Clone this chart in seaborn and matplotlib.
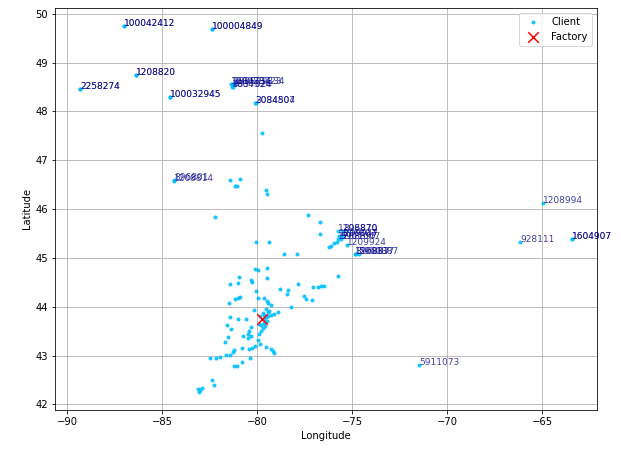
import matplotlib
matplotlib.use("Agg")
import matplotlib.pyplot as plt
import pandas as pd
import seaborn as sns

# Clients near the factory (no label)
near_lon = [
    -81.42, -80.98, -80.28, -80.05, -79.93, -79.65, -79.47, -79.40, -79.26, -78.79,
    -78.35, -78.42, -77.83, -77.51, -77.42, -78.21, -81.16, -80.98, -80.88, -81.49,
    -78.91, -79.09, -79.26, -79.44, -80.14, -79.61, -79.53, -79.61, -79.70, -79.79,
    -79.88, -81.42, -81.02, -80.58, -81.60, -81.37, -80.32, -80.40, -80.49, -80.76,
    -80.32, -80.49, -81.54, -81.68, -79.97, -79.83, -80.11, -80.40, -80.26, -79.53,
    -79.26, -79.18, -79.12, -80.79, -81.19, -81.28, -81.40, -81.63, -81.93, -82.16,
    -82.46, -80.35, -80.79, -81.19, -81.05, -82.37, -82.25, -83.12, -82.98, -82.91,
    -83.04,
    -81.42, -80.90, -81.07, -81.14, -79.53, -79.49, -82.21, -77.30, -76.67, -76.70,
    -80.04, -79.35, -78.60, -77.91, -76.19, -76.11, -75.97, -75.81, -80.11, -79.93,
    -79.46, -80.97, -80.32, -79.49, -75.76,
    -76.46, -76.63, -76.81, -77.03, -77.11, -79.74,
    -79.55, -79.40, -79.65, -79.50, -79.80, -79.60, -79.85, -79.35, -79.70, -79.90,
]
near_lat = [
    44.46, 44.49, 44.50, 44.32, 44.17, 44.17, 44.12, 44.07, 44.03, 44.37,
    44.35, 44.27, 44.47, 44.22, 44.15, 43.99, 44.15, 44.18, 44.20, 44.08,
    43.89, 43.86, 43.84, 43.82, 43.93, 43.84, 43.78, 43.67, 43.57, 43.50,
    43.44, 43.78, 43.74, 43.74, 43.62, 43.54, 43.59, 43.50, 43.45, 43.40,
    43.40, 43.35, 43.38, 43.28, 43.31, 43.23, 43.20, 43.13, 43.16, 43.18,
    43.13, 43.10, 43.06, 43.15, 43.11, 43.08, 43.01, 43.01, 42.97, 42.95,
    42.96, 42.95, 42.87, 42.79, 42.79, 42.50, 42.40, 42.31, 42.29, 42.33,
    42.26,
    46.60, 46.61, 46.48, 46.47, 46.40, 46.31, 45.84, 45.87, 45.74, 45.49,
    45.33, 45.33, 45.07, 45.07, 45.23, 45.25, 45.30, 45.33, 44.78, 44.75,
    44.79, 44.61, 44.54, 44.58, 44.63,
    44.43, 44.42, 44.41, 44.40, 44.14, 47.55,
    43.95, 43.90, 43.75, 43.70, 43.62, 43.60, 43.80, 43.92, 43.88, 43.65,
]

# Remote clients, labelled with their client number (repeated rows = repeat records)
far_lon = [
    -86.98, -86.98, -82.37, -82.37, -86.35, -86.35, -89.32, -89.32, -84.56, -84.56,
    -81.38, -81.30, -81.20, -81.28, -81.30,
    -80.10, -80.08,
    -84.38, -84.35,
    -75.72, -75.45, -75.70, -75.50, -75.75, -75.60,
    -75.28,
    -74.84, -74.80, -74.65,
    -64.96, -66.16, -63.42, -63.42, -71.46,
]
far_lat = [
    49.75, 49.75, 49.68, 49.68, 48.75, 48.75, 48.46, 48.46, 48.29, 48.29,
    48.56, 48.56, 48.57, 48.50, 48.51,
    48.17, 48.18,
    46.58, 46.59,
    45.55, 45.56, 45.45, 45.45, 45.38, 45.38,
    45.27,
    45.07, 45.08, 45.07,
    46.13, 45.33, 45.38, 45.38, 42.81,
]
far_ids = [
    "100042412", "100042412", "100004849", "100004849", "1208820", "1208820",
    "2258274", "2258274", "100032945", "100032945",
    "100028723", "1604734", "100029334", "4837024", "1604324",
    "3084504", "2084807",
    "1208814", "896801",
    "1208870", "896870", "1209047", "896807", "1208897", "5901047",
    "1209924",
    "1208837", "896887", "5960887",
    "1208994", "928111", "1604907", "1604907", "5911073",
]

factory_lon = [-79.74]
factory_lat = [43.75]

clients = pd.DataFrame({
    "Longitude": near_lon + far_lon,
    "Latitude": near_lat + far_lat,
})
factory = pd.DataFrame({"Longitude": factory_lon, "Latitude": factory_lat})

fig, ax = plt.subplots(figsize=(621 / 72, 453 / 72), dpi=72)
fig.subplots_adjust(left=0.089, right=0.961, top=0.983, bottom=0.095)

sns.scatterplot(data=clients, x="Longitude", y="Latitude", ax=ax,
                color="#00bfff", s=16, linewidth=0, alpha=0.9, label="Client")
sns.scatterplot(data=factory, x="Longitude", y="Latitude", ax=ax,
                color="red", marker="x", s=110, linewidth=1.5, label="Factory")

for lon, lat, cid in zip(far_lon, far_lat, far_ids):
    ax.text(lon, lat, cid, fontsize=9, color="darkblue", alpha=0.75)

ax.grid(True, color="#b0b0b0", linewidth=0.8)
ax.set_axisbelow(True)
ax.set_xlabel("Longitude", fontsize=10)
ax.set_ylabel("Latitude", fontsize=10)
ax.tick_params(labelsize=10)
ax.legend(loc="upper right", fontsize=10)

fig.savefig("out.png", dpi=72)
